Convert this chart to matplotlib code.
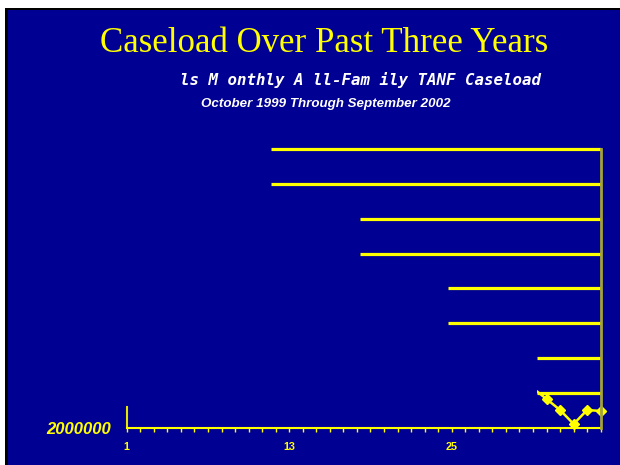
import matplotlib
matplotlib.use("Agg")
import matplotlib.pyplot as plt
from matplotlib.patches import Rectangle

# Monthly all-family TANF caseload, months 1..36 (Oct 1999 - Sep 2002)
months = [31, 32, 33, 34, 35, 36]
caseload = [2057000, 2041600, 2025800, 2005700, 2025800, 2024400]

# Horizontal reference levels and the month where each one begins
ref_levels = [2400000, 2350000, 2300000, 2250000, 2200000, 2150000, 2100000, 2050000]
ref_start = [11.66, 11.66, 18.23, 18.23, 24.73, 24.73, 31.3, 31.3]

x_ticks = list(range(1, 37))
x_labels = {1: "1", 13: "13", 25: "25"}
y_floor = 2000000
y_top = 2400000
y_axis_top = 2030000

BLUE = "#000092"
YELLOW = "#FFFF00"
OLIVE = "#A3A33A"

fig = plt.figure(figsize=(6.2, 4.65), dpi=100)
fig.patch.set_facecolor("white")
W, H = 620.0, 465.0
fig.patches.append(Rectangle((5 / W, 0), 1 - 5 / W, 1 - 8 / H, transform=fig.transFigure,
                             facecolor="black", edgecolor="none", zorder=-10))
fig.patches.append(Rectangle((8 / W, 0), 1 - 8 / W, 1 - 10.5 / H, transform=fig.transFigure,
                             facecolor=BLUE, edgecolor="none", zorder=-9))

ax = fig.add_axes([126.7 / W, 37 / H, 474 / W, 279 / H])
ax.set_zorder(1)
ax.set_facecolor("none")
ax.set_xlim(1, 36)
ax.set_ylim(y_floor, y_top)

for lvl, start in zip(ref_levels, ref_start):
    ax.hlines(lvl, start, 36, color=YELLOW, linewidth=2.3, zorder=2, clip_on=False)

line, = ax.plot(months, caseload, color=YELLOW, linewidth=1.8, marker="D",
                markersize=5, markevery=list(range(1, len(months))), zorder=3)
# the series is only shown from where the lowest reference level begins
clip = Rectangle((ref_start[-1], y_floor - 20000), 36.5 - ref_start[-1],
                 y_top - y_floor + 40000, transform=ax.transData,
                 facecolor="none", edgecolor="none")
ax.add_patch(clip)
line.set_clip_path(clip)

# Axes styling
ax.spines["top"].set_visible(False)
ax.spines["bottom"].set_color(YELLOW)
ax.spines["bottom"].set_linewidth(1.5)
ax.spines["left"].set_color("#E6E600")
ax.spines["left"].set_linewidth(1.5)
ax.spines["left"].set_bounds(y_floor, y_axis_top)
ax.spines["right"].set_color(OLIVE)
ax.spines["right"].set_linewidth(2)
ax.spines["right"].set_zorder(4)

ax.set_xticks(x_ticks)
ax.set_xticklabels([x_labels.get(t, "") for t in x_ticks])
ax.tick_params(axis="x", direction="out", length=3, width=1, color=YELLOW,
               labelcolor=YELLOW, pad=7)
for lbl in ax.get_xticklabels():
    lbl.set_fontfamily("Liberation Sans")
    lbl.set_fontweight("bold")
    lbl.set_fontsize(7.8)

ax.set_yticks([y_floor])
ax.set_yticklabels([str(y_floor)])
ax.tick_params(axis="y", length=0, labelcolor=YELLOW, pad=11)
for lbl in ax.get_yticklabels():
    lbl.set_fontfamily("Liberation Sans")
    lbl.set_fontweight("bold")
    lbl.set_fontstyle("italic")
    lbl.set_fontsize(12)

fig.text(324 / W, 1 - 43 / H, "Caseload Over Past Three Years", color=YELLOW,
         fontfamily="Liberation Serif", fontsize=25.1, ha="center", va="center")
fig.text(361 / W, 1 - 80 / H, "ls M onthly A ll-Fam ily TANF Caseload", color="white",
         fontfamily="DejaVu Sans Mono", fontstyle="oblique", fontweight="semibold",
         fontsize=11.3, ha="center", va="center")
fig.text(326 / W, 1 - 104 / H, "October 1999 Through September 2002", color="white",
         fontfamily="Liberation Sans", fontstyle="italic", fontweight="bold",
         fontsize=9.6, ha="center", va="center")

fig.savefig("out.png", dpi=100, facecolor=fig.get_facecolor())
